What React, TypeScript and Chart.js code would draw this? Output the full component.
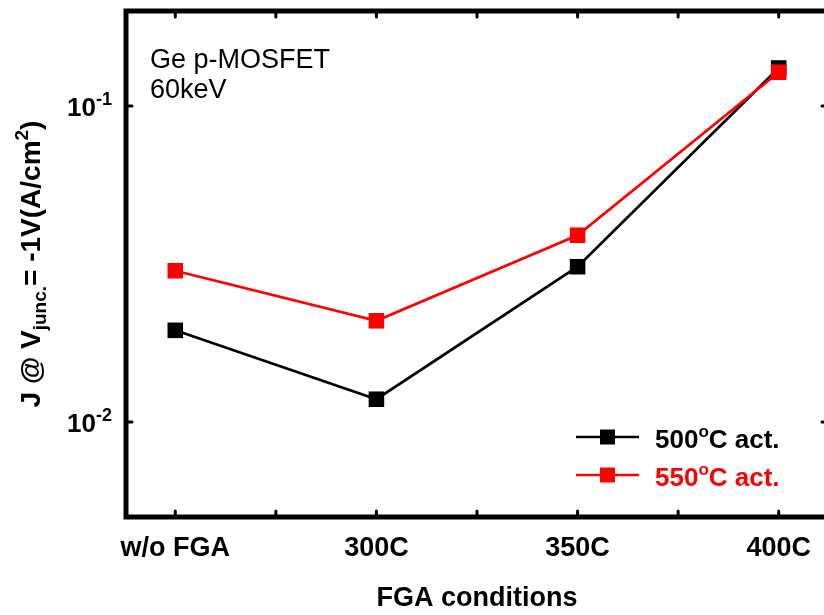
import React, { useEffect, useRef } from 'react';
import { Chart, registerables } from 'chart.js';

Chart.register(...registerables);

// FGA condition categories along the x axis
const categories = ['w/o FGA', '300C', '350C', '400C'];

// Junction leakage current density J (A/cm^2) at V = -1 V
const act500 = [0.0195, 0.0118, 0.031, 0.132];
const act550 = [0.0301, 0.0209, 0.039, 0.128];

// Decade ticks on the log axis
const yTickValues = [0.01, 0.1];

// Legend entries: activation temperatures
const seriesTemps = ['500', '550'];
const seriesColors = ['#000000', '#ff0000'];

// Inset annotation
const noteLines = ['Ge p-MOSFET', '60keV'];

type Seg = { text: string; kind?: 'sub' | 'sup' };

const yTitle: Seg[] = [
  { text: 'J @ V' },
  { text: 'junc.', kind: 'sub' },
  { text: '= -1V(A/cm' },
  { text: '2', kind: 'sup' },
  { text: ')' },
];

const FONT = '"Liberation Sans", Arial, Helvetica, sans-serif';

function fontFor(size: number, bold: boolean) {
  return `${bold ? 'bold ' : ''}${size}px ${FONT}`;
}

function richWidth(ctx: CanvasRenderingContext2D, segs: Seg[], size: number, small: number) {
  let w = 0;
  for (const s of segs) {
    ctx.font = fontFor(s.kind ? small : size, true);
    w += ctx.measureText(s.text).width;
  }
  return w;
}

function drawRich(
  ctx: CanvasRenderingContext2D,
  segs: Seg[],
  x: number,
  y: number,
  size: number,
  small: number,
  subDy: number,
  supDy: number
) {
  let cx = x;
  for (const s of segs) {
    ctx.font = fontFor(s.kind ? small : size, true);
    const dy = s.kind === 'sub' ? subDy : s.kind === 'sup' ? -supDy : 0;
    ctx.fillText(s.text, cx, y + dy);
    cx += ctx.measureText(s.text).width;
  }
  return cx;
}

const framePlugin = {
  id: 'frameAndLabels',
  afterDraw(chart: any) {
    const { ctx, chartArea: a, scales } = chart;
    const xs = scales.x;
    const ys = scales.y;
    ctx.save();

    // Box frame
    ctx.strokeStyle = '#000';
    ctx.lineWidth = 5;
    ctx.lineJoin = 'miter';
    ctx.strokeRect(a.left, a.top, a.right - a.left, a.bottom - a.top);

    // Inward tick marks
    ctx.lineWidth = 3;
    ctx.lineCap = 'round';
    const tl = 6;
    const xVals: number[] = [];
    categories.forEach((_, i) => {
      xVals.push(i);
      if (i < categories.length - 1) xVals.push(i + 0.5);
    });
    ctx.beginPath();
    for (const v of xVals) {
      const px = xs.getPixelForValue(v);
      ctx.moveTo(px, a.bottom);
      ctx.lineTo(px, a.bottom - tl);
      ctx.moveTo(px, a.top);
      ctx.lineTo(px, a.top + tl);
    }
    for (const v of yTickValues) {
      const py = ys.getPixelForValue(v);
      ctx.moveTo(a.left, py);
      ctx.lineTo(a.left + tl, py);
      ctx.moveTo(a.right, py);
      ctx.lineTo(a.right - tl, py);
    }
    ctx.stroke();

    // Y tick labels as powers of ten
    ctx.fillStyle = '#000';
    ctx.textBaseline = 'alphabetic';
    ctx.textAlign = 'left';
    for (const v of yTickValues) {
      const py = ys.getPixelForValue(v);
      const exp = String(Math.round(Math.log10(v)));
      drawRich(ctx, [{ text: '10' }, { text: exp, kind: 'sup' }], a.left - 59, py + 10, 26, 18, 0, 11);
    }

    // Rotated y-axis title
    ctx.save();
    const tw = richWidth(ctx, yTitle, 28, 19);
    ctx.translate(40, (a.top + a.bottom) / 2);
    ctx.rotate(-Math.PI / 2);
    drawRich(ctx, yTitle, -tw / 2, 0, 28, 19, 6, 12);
    ctx.restore();

    // Inset annotation
    ctx.font = fontFor(27, false);
    noteLines.forEach((t, i) => ctx.fillText(t, a.left + 24, a.top + 57 + i * 30));

    // Legend
    seriesTemps.forEach((temp, i) => {
      const ly = a.top + 426 + i * 38;
      const lx = a.left + 450;
      ctx.strokeStyle = seriesColors[i];
      ctx.fillStyle = seriesColors[i];
      ctx.lineWidth = 2.5;
      ctx.lineCap = 'butt';
      ctx.beginPath();
      ctx.moveTo(lx, ly);
      ctx.lineTo(lx + 63, ly);
      ctx.stroke();
      ctx.fillRect(lx + 31.5 - 7.5, ly - 7.5, 15, 15);
      drawRich(
        ctx,
        [{ text: temp }, { text: 'o', kind: 'sup' }, { text: 'C act.' }],
        lx + 79,
        ly + 11,
        26,
        17,
        0,
        11
      );
    });

    ctx.restore();
  },
};

export default function App() {
  const canvasRef = useRef<HTMLCanvasElement | null>(null);

  useEffect(() => {
    const canvas = canvasRef.current;
    if (!canvas) return;
    const toPoints = (arr: number[]) => arr.map((v, i) => ({ x: i, y: v }));
    const chart = new Chart(canvas, {
      type: 'line',
      data: {
        datasets: [
          {
            label: `${seriesTemps[0]}C act.`,
            data: toPoints(act500),
            borderColor: seriesColors[0],
            backgroundColor: seriesColors[0],
            pointBackgroundColor: seriesColors[0],
            pointBorderColor: seriesColors[0],
            borderWidth: 2.7,
            pointStyle: 'rect',
            pointRadius: 11,
            pointBorderWidth: 0,
            tension: 0,
            order: 2,
          },
          {
            label: `${seriesTemps[1]}C act.`,
            data: toPoints(act550),
            borderColor: seriesColors[1],
            backgroundColor: seriesColors[1],
            pointBackgroundColor: seriesColors[1],
            pointBorderColor: seriesColors[1],
            borderWidth: 2.7,
            pointStyle: 'rect',
            pointRadius: 11,
            pointBorderWidth: 0,
            tension: 0,
            order: 1,
          },
        ],
      },
      options: {
        animation: false,
        responsive: false,
        devicePixelRatio: 1,
        layout: { padding: { top: 10, right: 17, left: 0, bottom: 0 } },
        plugins: {
          legend: { display: false },
          tooltip: { enabled: false },
        },
        scales: {
          x: {
            type: 'linear',
            min: -0.245,
            max: 3.245,
            afterBuildTicks: (s: any) => {
              s.ticks = categories.map((_, i) => ({ value: i }));
            },
            afterFit: (s: any) => {
              s.height = 98;
            },
            grid: { display: false, drawTicks: false },
            border: { display: false },
            ticks: {
              callback: (v: any) => categories[v as number] ?? '',
              font: { family: FONT, size: 27, weight: 'bold' },
              color: '#000',
              padding: 15,
              maxRotation: 0,
              autoSkip: false,
            },
            title: {
              display: true,
              text: 'FGA conditions',
              font: { family: FONT, size: 27, weight: 'bold' },
              color: '#000',
              padding: { top: 0, bottom: 0 },
            },
          },
          y: {
            type: 'logarithmic',
            min: 0.005,
            max: 0.2,
            afterBuildTicks: (s: any) => {
              s.ticks = yTickValues.map((v) => ({ value: v }));
            },
            afterFit: (s: any) => {
              s.width = 126;
            },
            grid: { display: false, drawTicks: false },
            border: { display: false },
            ticks: { display: false },
          },
        },
      },
      plugins: [framePlugin],
    } as any);
    return () => chart.destroy();
  }, []);

  return (
    <div
      style={{
        position: 'fixed',
        left: 0,
        top: 0,
        width: 824,
        height: 615,
        overflow: 'hidden',
        background: '#fff',
      }}
    >
      <canvas ref={canvasRef} width={845} height={615} style={{ display: 'block', width: 845, height: 615 }} />
    </div>
  );
}
